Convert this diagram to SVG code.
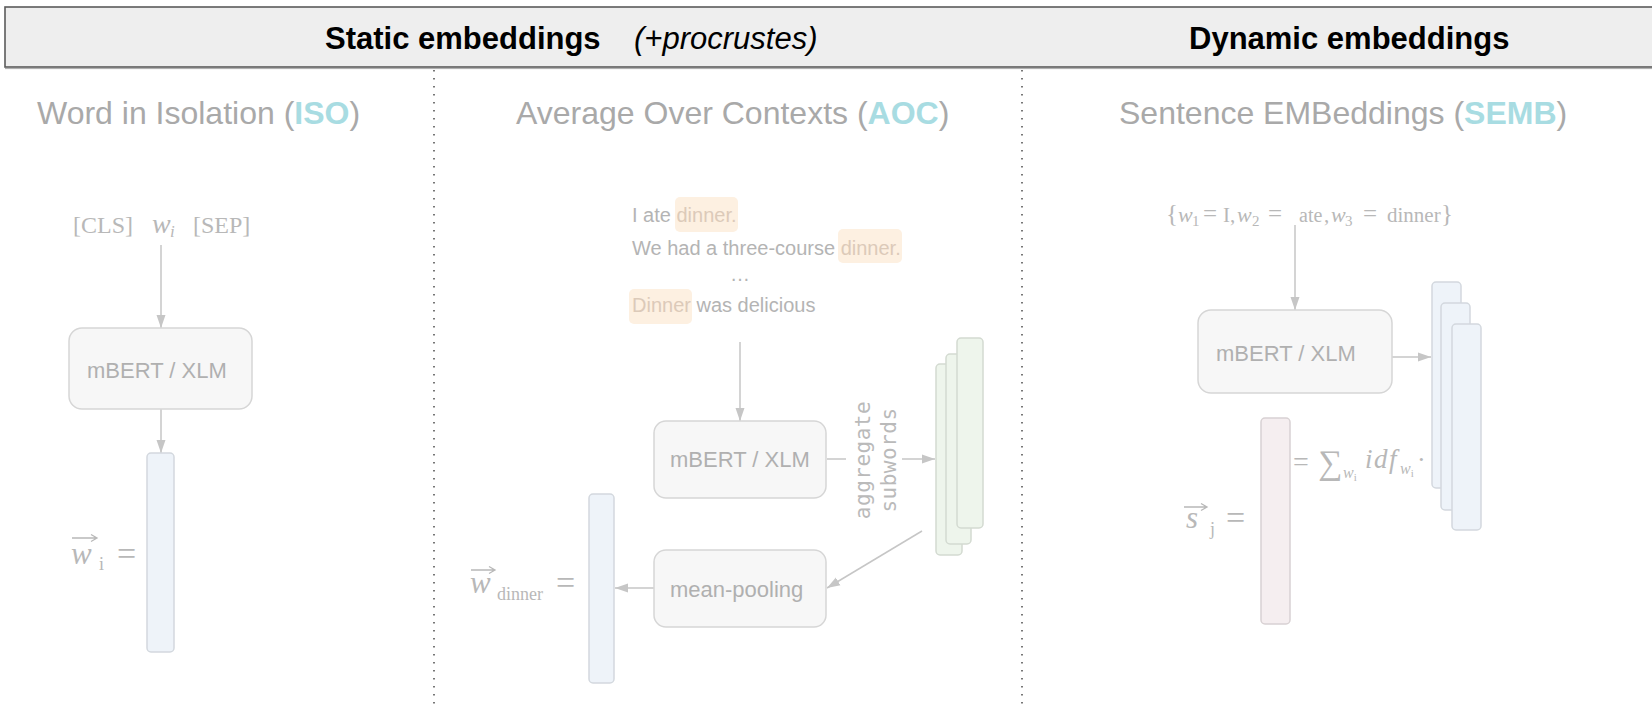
<svg xmlns="http://www.w3.org/2000/svg" width="1652" height="708" viewBox="0 0 1652 708">
  <style>
    .hdr { font-family: "Liberation Sans", Arial, sans-serif; font-size: 31px; fill: #000; }
    .ttl { font-family: "Liberation Sans", Arial, sans-serif; font-size: 32px; fill: #a9a9a9; }
    .acr { font-weight: bold; fill: #a8dce2; }
    .box { fill: #f7f7f7; stroke: #d6d6d6; stroke-width: 1.5; }
    .btx { font-family: "Liberation Sans", Arial, sans-serif; font-size: 22px; fill: #b0b0b0; }
    .sent { font-family: "Liberation Sans", Arial, sans-serif; font-size: 20px; fill: #b4b4b4; }
    .hl { fill: #fdf0e1; }
    .hlt { fill: #dccab9; }
    .mono { font-family: "DejaVu Sans Mono", "Liberation Mono", monospace; font-size: 21px; fill: #bababa; }
    .math { font-family: "Liberation Serif", "Times New Roman", serif; fill: #b8b8b8; }
    .it { font-style: italic; }
    .vblue { fill: #eef3f9; stroke: #d3d8de; stroke-width: 1.5; }
    .vgreen { fill: #eef5ec; stroke: #d3dad1; stroke-width: 1.5; }
    .vpink { fill: #f5eef0; stroke: #d8d1d3; stroke-width: 1.5; }
    .vec { fill: none; stroke: #b8b8b8; stroke-width: 1.3; }
    .edge { fill: none; stroke: #c6c6c6; stroke-width: 1.5; }
    .div { stroke: #555; stroke-width: 1.6; stroke-dasharray: 1.6 6.4; }
  </style>
  <defs>
    <marker id="arr" markerUnits="userSpaceOnUse" markerWidth="14" markerHeight="12" viewBox="0 0 14 12" refX="13" refY="6" orient="auto">
      <path d="M0 1.5 L13 6 L0 10.5 Z" fill="#c6c6c6"/>
    </marker>
  </defs>

  <rect width="1652" height="708" fill="#ffffff"/>

  <!-- header band -->
  <g id="header">
    <rect x="5" y="7" width="1660" height="60" fill="#eeeeee" stroke="#5b5b5b" stroke-width="1.6"/>
    <line x1="5" y1="68.6" x2="1652" y2="68.6" stroke="#a8a8a8" stroke-width="1"/>
    <text class="hdr" x="325" y="49" font-weight="bold">Static embeddings</text>
    <text class="hdr" x="634" y="49" font-style="italic">(+procrustes)</text>
    <text class="hdr" x="1189" y="49" font-weight="bold">Dynamic embeddings</text>
  </g>

  <!-- column dividers -->
  <g id="dividers">
    <line class="div" x1="434" y1="70" x2="434" y2="708"/>
    <line class="div" x1="1022" y1="70" x2="1022" y2="708"/>
  </g>

  <!-- column titles -->
  <g id="titles">
    <text class="ttl" x="37" y="124">Word in Isolation (<tspan class="acr">ISO</tspan>)</text>
    <text class="ttl" x="516" y="124">Average Over Contexts (<tspan class="acr">AOC</tspan>)</text>
    <text class="ttl" x="1119" y="124">Sentence EMBeddings (<tspan class="acr">SEMB</tspan>)</text>
  </g>

  <!-- connectors -->
  <g id="connectors">
    <line class="edge" x1="161" y1="245" x2="161" y2="328" marker-end="url(#arr)"/>
    <line class="edge" x1="161" y1="409" x2="161" y2="453" marker-end="url(#arr)"/>
    <line class="edge" x1="740" y1="342" x2="740" y2="421" marker-end="url(#arr)"/>
    <line class="edge" x1="827" y1="459" x2="846" y2="459"/>
    <line class="edge" x1="902" y1="459" x2="935" y2="459" marker-end="url(#arr)"/>
    <line class="edge" x1="922" y1="531" x2="827" y2="588" marker-end="url(#arr)"/>
    <line class="edge" x1="654" y1="588" x2="615" y2="588" marker-end="url(#arr)"/>
    <line class="edge" x1="1295" y1="225" x2="1295" y2="310" marker-end="url(#arr)"/>
    <line class="edge" x1="1392" y1="357" x2="1431" y2="357" marker-end="url(#arr)"/>
  </g>

  <!-- ISO column -->
  <g id="iso-input">
    <text class="math" font-size="24" y="233"><tspan x="73">[CLS]</tspan><tspan x="152" font-size="28" class="it">w</tspan><tspan x="170" y="237" font-size="17" class="it">i</tspan><tspan x="193" y="233">[SEP]</tspan></text>
  </g>
  <g id="iso-model">
    <rect class="box" x="69" y="328" width="183" height="81" rx="13"/>
    <text class="btx" x="87" y="378">mBERT / XLM</text>
  </g>
  <g id="iso-vector">
    <rect class="vblue" x="147" y="453" width="27" height="199" rx="4"/>
    <text class="math it" font-size="31" x="71" y="564">w</text>
    <path class="vec" d="M72 538 H96 M91 534.5 L97 538 L91 541.5"/>
    <text class="math" font-size="18" x="99" y="570">i</text>
    <text class="math" font-size="34" x="117" y="565">=</text>
  </g>

  <!-- AOC column -->
  <g id="aoc-sentences">
    <rect class="hl" x="675" y="197" width="63" height="35" rx="5"/>
    <rect class="hl" x="838" y="229" width="64" height="34" rx="5"/>
    <rect class="hl" x="629" y="289" width="63" height="35" rx="5"/>
    <text class="sent" x="632" y="222">I ate <tspan class="hlt">dinner.</tspan></text>
    <text class="sent" x="632" y="255">We had a three-course <tspan class="hlt">dinner.</tspan></text>
    <text class="sent" x="730" y="281">…</text>
    <text class="sent" x="632" y="312"><tspan class="hlt">Dinner</tspan> was delicious</text>
  </g>
  <g id="aoc-model">
    <rect class="box" x="654" y="421" width="172" height="77" rx="12"/>
    <text class="btx" x="670" y="467">mBERT / XLM</text>
  </g>
  <g id="aoc-aggregate-label">
    <text class="mono" transform="translate(870 460) rotate(-90)" text-anchor="middle" letter-spacing="0.5">aggregate</text>
    <text class="mono" transform="translate(896 460) rotate(-90)" text-anchor="middle" letter-spacing="0.5">subwords</text>
  </g>
  <g id="aoc-subword-vectors">
    <rect class="vgreen" x="936" y="364" width="26" height="191" rx="4"/>
    <rect class="vgreen" x="946" y="354" width="25" height="190" rx="4"/>
    <rect class="vgreen" x="957" y="338" width="26" height="190" rx="4"/>
  </g>
  <g id="aoc-pooling">
    <rect class="box" x="654" y="550" width="172" height="77" rx="12"/>
    <text class="btx" x="670" y="597">mean-pooling</text>
  </g>
  <g id="aoc-vector">
    <rect class="vblue" x="589" y="494" width="25" height="189" rx="4"/>
    <text class="math it" font-size="31" x="470" y="593">w</text>
    <path class="vec" d="M471 570 H494 M489 566.5 L495 570 L489 573.5"/>
    <text class="math" font-size="18" x="497" y="600">dinner</text>
    <text class="math" font-size="34" x="556" y="594">=</text>
  </g>

  <!-- SEMB column -->
  <g id="semb-input">
    <text class="math" font-size="21" y="222"><tspan x="1166" font-size="25">{</tspan><tspan x="1178" font-size="22" class="it">w</tspan><tspan x="1192" y="226" font-size="15">1</tspan><tspan x="1203" y="222" font-size="25">=</tspan><tspan x="1223">I,</tspan><tspan x="1237" font-size="22" class="it">w</tspan><tspan x="1252" y="226" font-size="15">2</tspan><tspan x="1268" y="222" font-size="25">=</tspan><tspan x="1299" font-size="20">ate</tspan><tspan x="1324">,</tspan><tspan x="1331" font-size="22" class="it">w</tspan><tspan x="1345" y="226" font-size="15">3</tspan><tspan x="1363" y="222" font-size="25">=</tspan><tspan x="1387">dinner</tspan><tspan x="1441" font-size="25">}</tspan></text>
  </g>
  <g id="semb-model">
    <rect class="box" x="1198" y="310" width="194" height="83" rx="13"/>
    <text class="btx" x="1216" y="361" font-size="24">mBERT / XLM</text>
  </g>
  <g id="semb-token-vectors">
    <rect class="vblue" x="1432" y="282" width="29" height="206" rx="4"/>
    <rect class="vblue" x="1441" y="303" width="29" height="207" rx="4"/>
    <rect class="vblue" x="1452" y="324" width="29" height="206" rx="4"/>
  </g>
  <g id="semb-weighting">
    <text class="math" font-size="28" x="1293" y="471">=</text>
    <text class="math" font-size="34" x="1318" y="474">∑</text>
    <text class="math it" font-size="16" x="1343" y="478">w<tspan font-size="11" font-style="normal" dy="3">i</tspan></text>
    <text class="math it" font-size="27" x="1365" y="468" letter-spacing="1.5">idf</text>
    <text class="math it" font-size="16" x="1400" y="474">w<tspan font-size="11" font-style="normal" dy="3">i</tspan></text>
    <text class="math" font-size="26" x="1417" y="468">·</text>
  </g>
  <g id="semb-vector">
    <rect class="vpink" x="1261" y="418" width="29" height="206" rx="4"/>
    <text class="math it" font-size="31" x="1186" y="528">s</text>
    <path class="vec" d="M1184 507 H1206 M1201 503.5 L1207 507 L1201 510.5"/>
    <text class="math" font-size="18" x="1210" y="535">j</text>
    <text class="math" font-size="34" x="1226" y="529">=</text>
  </g>
</svg>
